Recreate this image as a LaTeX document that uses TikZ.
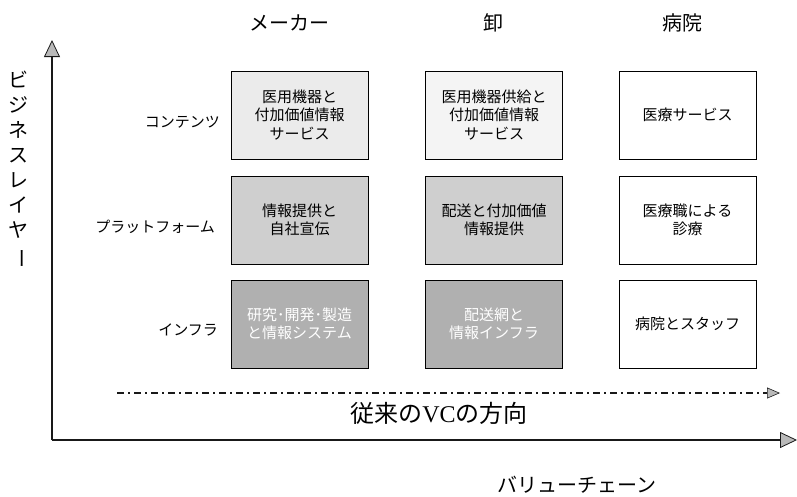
\documentclass[tikz,border=0pt]{standalone}
\usepackage{fontspec}
\usepackage{graphicx}
\setmainfont{Noto Sans CJK JP}
\newfontfamily\serifvc{Liberation Serif}
\usetikzlibrary{arrows.meta}
\tikzset{
  cell/.style={draw=black, line width=0.9pt, minimum width=137pt, minimum height=88pt, inner sep=0pt,
    align=center, font=\fontsize{15}{18.5}\selectfont},
  light/.style={cell, fill=gray!16},
  lighter/.style={cell, fill=gray!9},
  mid/.style={cell, fill=gray!38},
  dark/.style={cell, fill=gray!62, text=white},
  plain/.style={cell, fill=white},
  rowlabel/.style={anchor=east, font=\fontsize{15}{18}\selectfont, inner sep=0pt},
  header/.style={font=\fontsize{20}{22}\selectfont, inner sep=0pt},
  axis/.style={line width=2.4pt, draw=black!90, -{Triangle[width=16pt,length=17pt,fill=gray!55,line width=0.8pt]}},
  vcline/.style={line width=1.3pt, draw=black!90, dash pattern=on 7pt off 4pt on 2pt off 4pt, -{Triangle[width=11pt,length=13pt,fill=gray!55,line width=0.6pt]}}
}
\begin{document}
\begin{tikzpicture}[x=1pt,y=-1pt]
\useasboundingbox (0,0) rectangle (797,496);
% headers
\node[header] (h1) at (289,23) {メーカー};
\node[header] (h2) at (493,23) {卸};
\node[header] (h3) at (682,23) {病院};
% boxes
\node[light] (c11) at (299.5,115) {医用機器と\\付加価値情報\\サービス};
\node[lighter] (c12) at (494,115) {医用機器供給と\\付加価値情報\\サービス};
\node[plain] (c13) at (687.5,115) {医療サービス};
\node[mid] (c21) at (299.5,220) {情報提供と\\自社宣伝};
\node[mid] (c22) at (494,220) {配送と付加価値\\情報提供};
\node[plain] (c23) at (687.5,220) {医療職による\\診療};
\node[dark] (c31) at (299.5,324) {研究･開発･製造\\と情報システム};
\node[dark] (c32) at (494,324) {配送網と\\情報インフラ};
\node[plain] (c33) at (687.5,324) {病院とスタッフ};
% row labels
\node[rowlabel] (r1) at (220,122) {コンテンツ};
\node[rowlabel] (r2) at (215,227) {プラットフォーム};
\node[rowlabel] (r3) at (218,330) {インフラ};
% axes
\coordinate (o) at (52,440);
\coordinate (ytop) at (52,40);
\coordinate (xend) at (797,440);
\draw[axis] (o) -- (ytop);
\draw[axis] (o) -- (xend);
% vertical axis label
\node[font=\fontsize{20}{25}\selectfont, align=center, inner sep=0pt] (ylab) at (19,170)
  {ビ\\ジ\\ネ\\ス\\レ\\イ\\ヤ\\\rotatebox[origin=c]{-90}{ー}};
% VC direction
\coordinate (vcs) at (117,393);
\coordinate (vce) at (780,393);
\draw[vcline] (vcs) -- (vce);
\node[font=\fontsize{24}{26}\selectfont, inner sep=0pt] (vclab) at (439,413) {従来の{\serifvc VC}の方向};
\node[font=\fontsize{20}{22}\selectfont, inner sep=0pt] (xlab) at (577,485) {バリューチェーン};
\end{tikzpicture}
\end{document}
